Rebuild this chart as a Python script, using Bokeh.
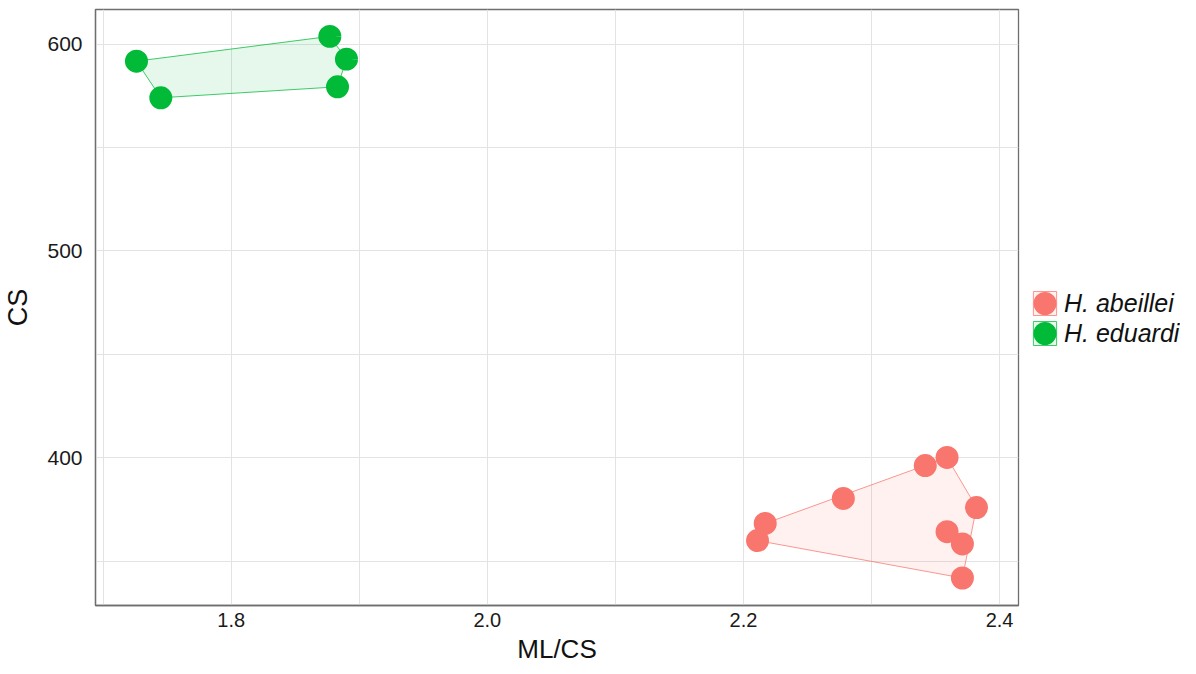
from bokeh.plotting import figure
from bokeh.layouts import row
from bokeh.models import (Range1d, FixedTicker, Legend, LegendItem, ColumnDataSource,
                          PrintfTickFormatter)
from bokeh.embed import file_html
from bokeh.resources import INLINE

# ---- data ----
species = ["H. abeillei", "H. eduardi"]
colors = ["#F8766D", "#00BA38"]

abeillei_mlcs = [2.217, 2.211, 2.278, 2.342, 2.359, 2.382, 2.359, 2.371, 2.371]
abeillei_cs = [368.2, 359.9, 380.3, 396.2, 400.1, 375.9, 364.2, 358.3, 341.8]

eduardi_mlcs = [1.726, 1.745, 1.877, 1.890, 1.883]
eduardi_cs = [591.8, 574.1, 603.8, 592.8, 579.4]

x_ticks = [1.8, 2.0, 2.2, 2.4]
x_minor = [1.7, 1.9, 2.1, 2.3]
y_ticks = [400, 500, 600]
y_minor = [350, 450, 550]
x_lim = (1.694, 2.4148)
y_lim = (328.5, 616.8)


def convex_hull(xs, ys):
    pts = sorted(set(zip(xs, ys)))
    if len(pts) <= 2:
        return pts

    def cross(o, a, b):
        return (a[0] - o[0]) * (b[1] - o[1]) - (a[1] - o[1]) * (b[0] - o[0])

    lower = []
    for pt in pts:
        while len(lower) >= 2 and cross(lower[-2], lower[-1], pt) <= 0:
            lower.pop()
        lower.append(pt)
    upper = []
    for pt in reversed(pts):
        while len(upper) >= 2 and cross(upper[-2], upper[-1], pt) <= 0:
            upper.pop()
        upper.append(pt)
    return lower[:-1] + upper[:-1]


FONT = "Liberation Sans"
H = 666
W_MAIN = 1022

p = figure(width=W_MAIN, height=H, output_backend="svg", toolbar_location=None,
           x_range=Range1d(*x_lim), y_range=Range1d(*y_lim),
           min_border_left=95, min_border_right=4, min_border_top=9,
           min_border_bottom=20)
p.background_fill_color = "white"
p.border_fill_color = "white"
p.outline_line_color = "#6e6e6e"
p.outline_line_width = 1.3

# separate narrow figure holding the legend (right of the panel)
lg = figure(width=1180 - W_MAIN, height=H, output_backend="svg", toolbar_location=None,
            x_range=Range1d(0, 1), y_range=Range1d(0, 1),
            min_border=0, x_axis_type=None, y_axis_type=None)
lg.outline_line_color = None
lg.xgrid.visible = False
lg.ygrid.visible = False
lg.background_fill_color = "white"
lg.border_fill_color = "white"

items = []
series = [(abeillei_mlcs, abeillei_cs), (eduardi_mlcs, eduardi_cs)]
for (xs, ys), name, col in zip(series, species, colors):
    hull = convex_hull(xs, ys)
    hx = [h[0] for h in hull]
    hy = [h[1] for h in hull]
    patch_kw = dict(fill_color=col, fill_alpha=0.1, line_color=col,
                    line_alpha=0.75, line_width=1)
    pt_kw = dict(size=11.6, marker="circle", fill_color=col, line_color=col,
                 line_width=11.4)
    p.patch(hx, hy, **patch_kw)
    src = ColumnDataSource(dict(x=xs, y=ys))
    p.scatter("x", "y", source=src, **pt_kw)
    # legend proxies (data lies outside the legend figure's range)
    pr = lg.patch(hx, hy, **patch_kw)
    sr = lg.scatter("x", "y", source=src, **pt_kw)
    items.append(LegendItem(label=name, renderers=[pr, sr]))

# axes
p.xaxis.ticker = FixedTicker(ticks=x_ticks, minor_ticks=x_minor)
p.yaxis.ticker = FixedTicker(ticks=y_ticks, minor_ticks=y_minor)
p.xaxis.formatter = PrintfTickFormatter(format="%.1f")
p.yaxis.formatter = PrintfTickFormatter(format="%d")
for ax in (p.xaxis, p.yaxis):
    ax.major_tick_line_color = None
    ax.minor_tick_line_color = None
    ax.major_tick_out = 0
    ax.major_tick_in = 0
    ax.minor_tick_out = 0
    ax.minor_tick_in = 0
    ax.axis_line_color = "#6e6e6e"
    ax.axis_line_width = 1.3
    ax.major_label_text_font = FONT
    ax.major_label_text_font_size = "21px"
    ax.major_label_text_color = "#1a1a1a"
    ax.axis_label_text_font = FONT
    ax.axis_label_text_font_size = "27px"
    ax.axis_label_text_font_style = "normal"
    ax.axis_label_text_color = "#111111"
p.xaxis.major_label_text_font_size = "20px"
p.xaxis.axis_label_text_font_size = "26px"
p.xaxis.axis_label = "ML/CS"
p.yaxis.axis_label = "CS"
p.xaxis.major_label_standoff = 7
p.xaxis.axis_label_standoff = 4
p.yaxis.major_label_standoff = 13
p.yaxis.axis_label_standoff = 11

# grid
for g in (p.xgrid, p.ygrid):
    g.grid_line_color = "#e3e3e3"
    g.grid_line_width = 1
    g.minor_grid_line_color = "#e3e3e3"
    g.minor_grid_line_width = 1

legend = Legend(items=items, location=(8, 257), glyph_width=29, glyph_height=30,
                label_height=30, spacing=0, padding=0, margin=0,
                label_standoff=5, border_line_color=None, background_fill_alpha=0,
                label_text_font=FONT, label_text_font_size="25px",
                label_text_font_style="italic", label_text_color="#111111")
lg.add_layout(legend, "center")

layout = row(p, lg, spacing=0)
open("out.html", "w").write(file_html(layout, INLINE))
